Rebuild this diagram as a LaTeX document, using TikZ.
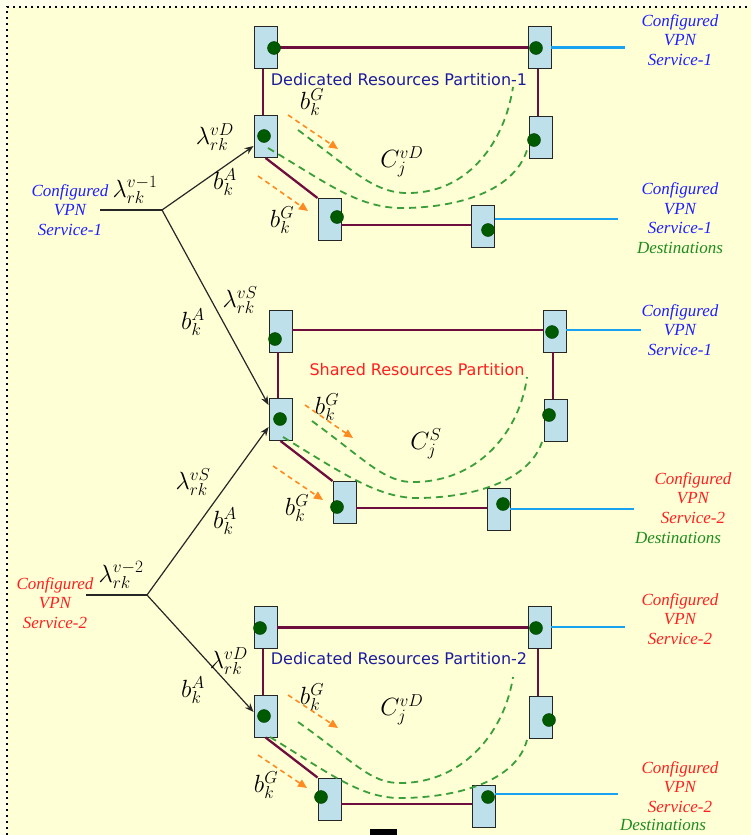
\documentclass[tikz,border=0pt]{standalone}
\usepackage{fontspec}
\setmainfont{Liberation Serif}
\newfontfamily\sansf{DejaVu Sans}
\usetikzlibrary{arrows.meta}
\definecolor{bgout}{HTML}{FFFFEC}
\definecolor{bgin}{HTML}{FFFFD6}
\definecolor{boxfill}{HTML}{BDE0EA}
\definecolor{dotgreen}{HTML}{005A00}
\definecolor{maroon}{HTML}{6E0E3E}
\definecolor{svcblue}{HTML}{1AA2F2}
\definecolor{dashgreen}{HTML}{3A9E3A}
\definecolor{flowor}{HTML}{FF8A20}
\definecolor{txtblue}{HTML}{1F1FFF}
\definecolor{txtred}{HTML}{FF1F1F}
\definecolor{txtgreen}{HTML}{1E8C1E}
\definecolor{navy}{HTML}{1C1C9C}
\tikzset{
  box/.style={draw=black!85, line width=0.9pt, fill=boxfill, minimum width=23pt, minimum height=42pt, inner sep=0pt},
  dotn/.style={circle, fill=dotgreen, draw=dotgreen!70!black, line width=0.4pt, minimum size=13pt, inner sep=0pt},
  link/.style={draw=maroon, line width=2.3pt},
  svc/.style={draw=svcblue, line width=2.8pt},
  tree/.style={draw=black!85, line width=1.2pt},
  treearrow/.style={tree, -{Stealth[length=9pt,width=7pt]}},
  flow/.style={draw=flowor, line width=1.6pt, dash pattern=on 5pt off 4pt, -{Triangle[length=9pt,width=8pt]}},
  gpath/.style={draw=dashgreen, line width=1.8pt, dash pattern=on 7pt off 5pt},
  lbl/.style={font=\fontsize{17}{19.5}\selectfont\itshape, align=center, inner sep=0pt},
  part/.style={font=\sansf\fontsize{16}{18}\selectfont, inner sep=0pt},
  mth/.style={font=\fontsize{24}{26}\selectfont, inner sep=0pt}
}
\begin{document}
\begin{tikzpicture}[x=1pt,y=-1pt]
\useasboundingbox (0,0) rectangle (751,835);
\fill[bgout] (0,0) rectangle (751,835);
\fill[bgin] (7,7) rectangle (751,835);
\draw[black, line width=2pt, dash pattern=on 2pt off 4pt] (7,835) -- (7,7) -- (751,7);
\fill[black] (370,829) rectangle (397,835);

% ---------- boxes ----------
\node[box] (A1) at (265.5,47.5) {};
\node[box] (A2) at (265.5,136.5) {};
\node[box] (A3) at (329.5,219.5) {};
\node[box] (B1) at (539.5,47.5) {};
\node[box] (B2) at (541,137.5) {};
\node[box] (B3) at (483,226.5) {};

\node[box] (M1) at (280.5,331) {};
\node[box] (M2) at (280.5,419.5) {};
\node[box] (M3) at (344.5,502.5) {};
\node[box] (M4) at (554.5,331) {};
\node[box] (M5) at (555.5,420.5) {};
\node[box] (M6) at (498.5,509.5) {};

\node[box] (D1) at (265.5,627.5) {};
\node[box] (D2) at (265.5,716) {};
\node[box] (D3) at (329.5,799) {};
\node[box] (D4) at (539.5,627.5) {};
\node[box] (D5) at (541,717.5) {};
\node[box] (D6) at (483.5,806) {};

% ---------- maroon links ----------
\draw[link] (A1.east) -- (B1.west);
\draw[link] ([xshift=-2.5pt]A1.south) -- ([xshift=-2.5pt]A2.north);
\draw[link] (A2.south) -- (A3.north west);
\draw[link] ([yshift=-5.5pt]A3.east) -- ([yshift=-5.5pt]A3.east -| B3.west);
\draw[link] ([xshift=-1.5pt]B1.south) -- ([xshift=-1.5pt]B1.south |- B2.north);

\draw[link] ([yshift=1pt]M1.east) -- ([yshift=1pt]M1.east -| M4.west);
\draw[link] ([xshift=-2.5pt]M1.south) -- ([xshift=-2.5pt]M2.north);
\draw[link] (M2.south) -- (M3.north west);
\draw[link] ([yshift=-5.5pt]M3.east) -- ([yshift=-5.5pt]M3.east -| M6.west);
\draw[link] ([xshift=-1.5pt]M4.south) -- ([xshift=-1.5pt]M4.south |- M5.north);

\draw[link] (D1.east) -- (D4.west);
\draw[link] ([xshift=-2.5pt]D1.south) -- ([xshift=-2.5pt]D2.north);
\draw[link] (D2.south) -- (D3.north west);
\draw[link] ([yshift=-5pt]D3.east) -- ([yshift=-5pt]D3.east -| D6.west);
\draw[link] ([xshift=-1.5pt]D4.south) -- ([xshift=-1.5pt]D4.south |- D5.north);

% ---------- blue service links ----------
\coordinate (t1) at (625,47.5);
\coordinate (t2) at (618,219);
\coordinate (t3) at (641,330);
\coordinate (t4) at (634,509);
\coordinate (t5) at (625,627);
\coordinate (t6) at (618,794);
\draw[svc] (B1.east) -- (t1);
\draw[svc] ([yshift=7.5pt]B3.east) -- (t2);
\draw[svc] ([yshift=1pt]M4.east) -- (t3);
\draw[svc] ([yshift=0.5pt]M6.east) -- (t4);
\draw[svc] ([yshift=0.5pt]D4.east) -- (t5);
\draw[svc] ([yshift=12pt]D6.east) -- (t6);

% ---------- dots ----------
\node[dotn] (a1) at (274,48) {};
\node[dotn] (a2) at (264,136) {};
\node[dotn] (a3) at (337,217) {};
\node[dotn] (b1) at (536,48) {};
\node[dotn] (b2) at (534,140) {};
\node[dotn] (b3) at (488,230) {};
\node[dotn] (m1) at (275,339) {};
\node[dotn] (m2) at (280,419) {};
\node[dotn] (m3) at (337,507) {};
\node[dotn] (m4) at (552,332) {};
\node[dotn] (m5) at (549,415) {};
\node[dotn] (m6) at (503,504) {};
\node[dotn] (d1) at (260,628) {};
\node[dotn] (d2) at (264,716) {};
\node[dotn] (d3) at (321,797) {};
\node[dotn] (d4) at (536,628) {};
\node[dotn] (d5) at (549,720) {};
\node[dotn] (d6) at (488,797) {};

% ---------- tree ----------
\coordinate (J1) at (162,210);
\coordinate (L1) at (100,210);
\coordinate (J2) at (147,595);
\coordinate (L2) at (86,595);
\draw[tree] (L1) -- (J1);
\draw[treearrow] (J1) -- ([yshift=-9.5pt]A2.west);
\draw[treearrow] (J1) -- ([yshift=-7pt]M2.north west);
\draw[tree] (L2) -- (J2);
\draw[treearrow] (J2) -- ([yshift=-7.5pt]M2.west);
\draw[treearrow] (J2) -- ([yshift=4pt]D2.west);

% ---------- green dashed paths ----------
\draw[gpath] (298,130) .. controls (355,172) and (375,194) .. (410,193) .. controls (470,192) and (505,140) .. (513,87);
\draw[gpath] (268,148) .. controls (330,185) and (360,209) .. (405,208) .. controls (465,207) and (515,188) .. (527,150);
\draw[gpath] (312,421) .. controls (368,462) and (385,483) .. (415,482) .. controls (480,481) and (520,430) .. (527,377);
\draw[gpath] (283,437) .. controls (345,475) and (380,499) .. (420,498) .. controls (480,497) and (530,478) .. (542,442);
\draw[gpath] (298,722) .. controls (355,762) and (370,784) .. (402,783) .. controls (465,782) and (505,730) .. (513,677);
\draw[gpath] (270,737) .. controls (332,775) and (362,799) .. (403,798) .. controls (465,797) and (517,778) .. (527,740);

% ---------- orange flows ----------
\draw[flow] (288,115) -- (338,149);
\draw[flow] (258,176) -- (308,211);
\draw[flow] (305,405) -- (353,438);
\draw[flow] (273,466) -- (323,500);
\draw[flow] (288,695) -- (338,728);
\draw[flow] (258,755) -- (307,788);

% ---------- text labels ----------
\node[lbl, text=txtblue] (s1) at (680,40) {Configured\\VPN\\Service-1};
\node[lbl, text=txtblue] (s2) at (680,218) {Configured\\VPN\\Service-1\\\textcolor{txtgreen}{Destinations}};
\node[lbl, text=txtblue] (s3) at (680,330) {Configured\\VPN\\Service-1};
\node[lbl, text=txtred] (s4) at (693,498) {Configured\\VPN\\Service-2};
\node[lbl, text=txtgreen] (s4d) at (678,538) {Destinations};
\node[lbl, text=txtred] (s5) at (680,619) {Configured\\VPN\\Service-2};
\node[lbl, text=txtred] (s6) at (680,787) {Configured\\VPN\\Service-2};
\node[lbl, text=txtgreen] (s6d) at (663,825) {Destinations};
\node[lbl, text=txtblue] (src1) at (70,210) {Configured\\VPN\\Service-1};
\node[lbl, text=txtred] (src2) at (55,603) {Configured\\VPN\\Service-2};

\node[part, text=navy] (p1) at (399,80) {Dedicated Resources Partition-1};
\node[part, text=txtred] (p2) at (417,370) {Shared Resources Partition};
\node[part, text=navy] (p3) at (399,659) {Dedicated Resources Partition-2};

% ---------- math labels ----------
\node[mth] (x1) at (312,102) {$b_k^G$};
\node[mth] (x2) at (215,137) {$\lambda_{rk}^{vD}$};
\node[mth] (x3) at (225,182) {$b_k^A$};
\node[mth] (x4) at (135,190) {$\lambda_{rk}^{v-1}$};
\node[mth] (x5) at (282,220) {$b_k^G$};
\node[mth] (x6) at (402,162) {$C_j^{vD}$};

\node[mth] (y1) at (240,300) {$\lambda_{rk}^{vS}$};
\node[mth] (y2) at (193,322) {$b_k^A$};
\node[mth] (y3) at (327,407) {$b_k^G$};
\node[mth] (y4) at (426,444) {$C_j^{S}$};
\node[mth] (y5) at (193,482) {$\lambda_{rk}^{vS}$};
\node[mth] (y6) at (225,521) {$b_k^A$};
\node[mth] (y7) at (297,508) {$b_k^G$};

\node[mth] (z1) at (121,575) {$\lambda_{rk}^{v-2}$};
\node[mth] (z2) at (229,661) {$\lambda_{rk}^{vD}$};
\node[mth] (z3) at (193,690) {$b_k^A$};
\node[mth] (z4) at (312,697) {$b_k^G$};
\node[mth] (z5) at (402,710) {$C_j^{vD}$};
\node[mth] (z6) at (266,785) {$b_k^G$};
\end{tikzpicture}
\end{document}
